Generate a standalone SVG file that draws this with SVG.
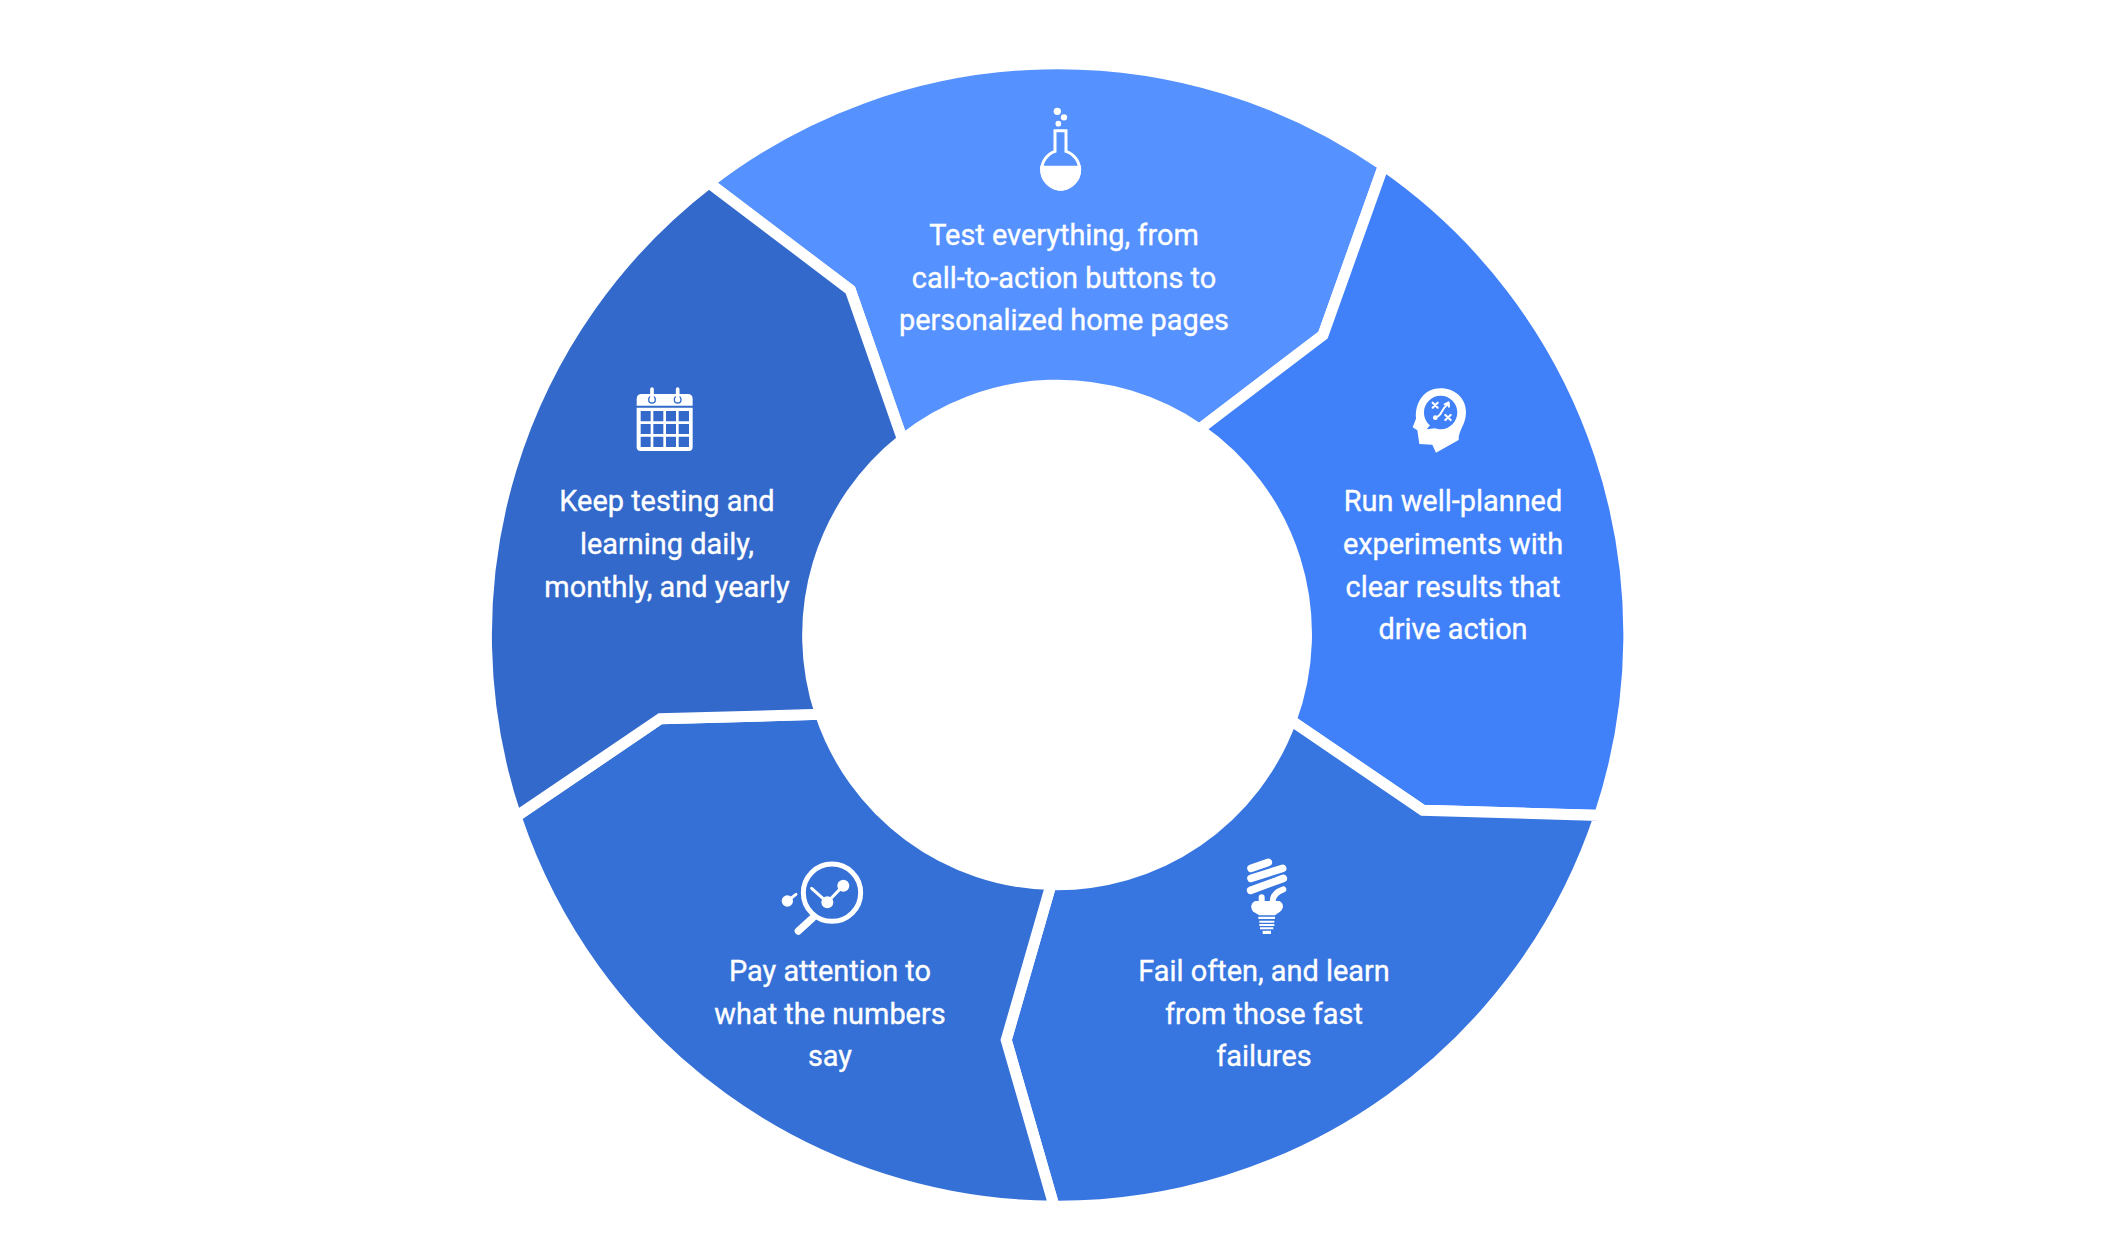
<svg xmlns="http://www.w3.org/2000/svg" width="2117" height="1256" viewBox="0 0 2117 1256">
<style>
.seg{stroke:#fff;stroke-width:11;stroke-linejoin:miter}
text{font-family:Roboto,"Liberation Sans",sans-serif;font-size:28.9px;fill:#fff;stroke:#fff;stroke-width:.35px;text-anchor:middle}
.w{fill:#fff;stroke:none}
.l{fill:none;stroke:#fff;stroke-linecap:round;stroke-linejoin:round}
</style>
<rect width="2117" height="1256" fill="#fff"/>
<g id="node-test">
<path class="seg" fill="#5591ff" d="M708.9,182.8 A571,571 0 0 1 1383.5,165.6 L1323,335 L1199.5,429.2 A249.5,249.5 0 0 0 902.5,439.5 L850.3,290 Z"/>
<g transform="translate(980,90) scale(.3333)">
<circle class="w" cx="232" cy="64" r="11"/><circle class="w" cx="252" cy="82" r="9.5"/><circle class="w" cx="235" cy="101" r="8.5"/>
<path d="M225,122H258V184C282,192 299,214 299,240C299,272 272,297 242,297C212,297 185,272 185,240C185,214 202,192 225,184Z" fill="none" stroke="#fff" stroke-width="9"/>
<path class="w" d="M181,227H303C307,270 275,302 242,302C209,302 177,270 181,227Z"/>
</g>
<text x="1064" y="245">Test everything, from</text>
<text x="1064" y="288">call-to-action buttons to</text>
<text x="1064" y="330">personalized home pages</text>
</g>
<g id="node-run">
<path class="seg" fill="#4081fa" d="M1383.5,165.6 A571,571 0 0 1 1599.5,815.4 L1422.8,810.3 L1291,720.5 A249.5,249.5 0 0 0 1199.5,429.2 L1323,335 Z"/>
<g transform="translate(1380,370) scale(.3333)">
<path class="w" fill-rule="evenodd" d="M168,248L157,224L118,222L112,181L98,172L108,146C104,95 135,55 182,55C225,55 258,85 258,127C258,165 235,180 236,210ZM182,77C154,77 132,100 132,127C132,145 140,158 150,166L140,178L165,175C172,177 177,178 182,178C210,178 232,155 232,127C232,100 210,77 182,77Z"/>
<path class="l" stroke-width="6.5" d="M158,98L173,113M173,98L158,113M196,135L212,150M212,135L196,150"/>
<path class="l" stroke-width="6" d="M168,142C190,135 180,118 202,105M194,103L206,97L207,110"/>
<circle class="w" cx="166" cy="143" r="7"/>
</g>
<text x="1453" y="511">Run well-planned</text>
<text x="1453" y="554">experiments with</text>
<text x="1453" y="597">clear results that</text>
<text x="1453" y="639">drive action</text>
</g>
<g id="node-fail">
<path class="seg" fill="#3775e0" d="M1599.5,815.4 A571,571 0 0 1 1054.1,1206.2 L1006.2,1040 L1051,884.6 A249.5,249.5 0 0 0 1291,720.5 L1422.8,810.3 Z"/>
<g transform="translate(1220,840) scale(.3333)">
<path class="l" stroke-width="23" d="M93,85L145,67M93,115L188,85M92,151L190,115"/>
<path class="l" stroke-width="18" d="M125,172V190M158,185C158,165 170,155 190,148"/>
<path class="w" d="M105,183H178C192,190 192,205 180,215L165,226H118L100,215C90,205 92,190 105,183Z"/>
<path class="w" d="M115,230H165V237H115ZM118,242H163V248H118ZM118,252H163V258H118ZM120,262H160V268H120ZM128,272H153V282H128Z"/>
</g>
<text x="1264" y="981">Fail often, and learn</text>
<text x="1264" y="1024">from those fast</text>
<text x="1264" y="1066">failures</text>
</g>
<g id="node-pay">
<path class="seg" fill="#3570d6" d="M1054.1,1206.2 A571,571 0 0 1 516,816.6 L660.3,718.8 L820.5,714.3 A249.5,249.5 0 0 0 1051,884.6 L1006.2,1040 Z"/>
<g transform="translate(770,845) scale(.3333)">
<circle cx="186" cy="143" r="86" fill="none" stroke="#fff" stroke-width="15"/>
<path class="l" stroke-width="22" d="M127,220L85,258"/>
<path class="l" stroke-width="9" d="M125,130L172,172L220,122M52,168L78,148"/>
<circle class="w" cx="172" cy="172" r="18"/><circle class="w" cx="220" cy="122" r="18"/><circle class="w" cx="52" cy="168" r="17"/>
</g>
<text x="830" y="981">Pay attention to</text>
<text x="830" y="1024">what the numbers</text>
<text x="830" y="1066">say</text>
</g>
<g id="node-keep">
<path class="seg" fill="#3269cb" d="M516,816.6 A571,571 0 0 1 708.9,182.8 L850.3,290 L902.5,439.5 A249.5,249.5 0 0 0 820.5,714.3 L660.3,718.8 Z"/>
<g transform="translate(620,375) scale(.3333)">
<path class="w" d="M50,92V72Q50,57 65,57H203Q218,57 218,72V92Z"/>
<path class="w" fill-rule="evenodd" d="M50,98H218V216Q218,228 206,228H62Q50,228 50,216ZM62,108V139H92V108ZM100,108V139H130V108ZM138,108V139H168V108ZM176,108V139H207V108ZM62,147V177H92V147ZM100,147V177H130V147ZM138,147V177H168V147ZM176,147V177H207V147ZM62,185V216H92V185ZM100,185V216H130V185ZM138,185V216H168V185ZM176,185V216H207V185Z"/>
<circle cx="96" cy="74" r="10" fill="none" stroke="#3269cb" stroke-width="4"/><circle cx="173" cy="74" r="10" fill="none" stroke="#3269cb" stroke-width="4"/>
<path class="l" stroke-width="11" d="M96,42V76M173,42V76"/>
</g>
<text x="667" y="511">Keep testing and</text>
<text x="667" y="554">learning daily,</text>
<text x="667" y="597">monthly, and yearly</text>
</g>
<g id="connectors"/>
</svg>
